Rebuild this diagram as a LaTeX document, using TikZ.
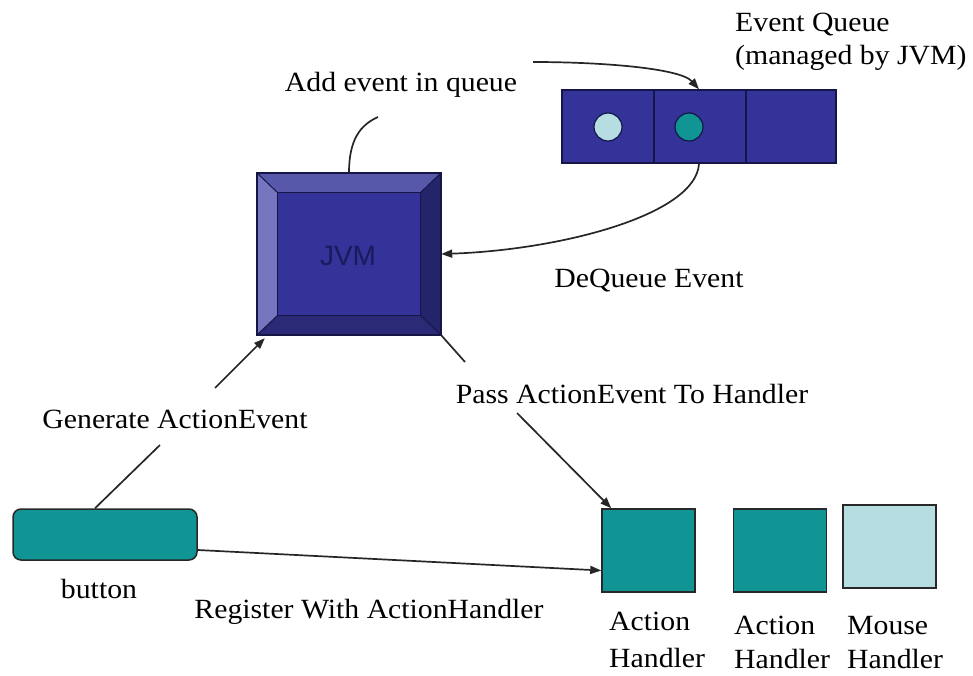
\documentclass[tikz,border=0pt]{standalone}
\usepackage{fontspec}
\setmainfont{Liberation Serif}[FakeStretch=1.07]
\newfontfamily\jvmfont{Liberation Sans}
\usetikzlibrary{arrows.meta,calc}
\definecolor{tealbox}{RGB}{16,148,148}
\definecolor{lightteal}{RGB}{182,222,226}
\definecolor{qfill}{RGB}{51,51,153}
\definecolor{qedge}{RGB}{22,22,70}
\definecolor{jvmface}{RGB}{51,51,153}
\definecolor{jvmtop}{RGB}{88,88,170}
\definecolor{jvmleft}{RGB}{118,118,192}
\definecolor{jvmright}{RGB}{36,36,106}
\definecolor{jvmbottom}{RGB}{42,42,118}
\definecolor{jvmtext}{RGB}{26,26,92}
\definecolor{boxedge}{RGB}{40,40,40}
\begin{document}
\begin{tikzpicture}[x=1pt,y=-1pt,
  lbl/.style={font=\fontsize{27.8}{32}\selectfont, inner sep=0pt},
  conn/.style={line width=1.7pt, draw=black!85},
  arr/.style={conn,-{Triangle[length=11pt,width=8pt]}},
  hbox/.style={draw=boxedge, line width=1.5pt, minimum width=93pt, minimum height=83pt, inner sep=0pt}]
\path[use as bounding box] (0,0) rectangle (973,676);

% JVM box
\node[minimum width=184pt, minimum height=162pt, inner sep=0pt] (jvm) at (349,254) {};
\coordinate (ji1) at ([shift={(21pt,-20pt)}]jvm.north west);
\coordinate (ji2) at ([shift={(-21pt,-20pt)}]jvm.north east);
\coordinate (ji3) at ([shift={(-21pt,20pt)}]jvm.south east);
\coordinate (ji4) at ([shift={(21pt,20pt)}]jvm.south west);
\fill[jvmtop] (jvm.north west) -- (jvm.north east) -- (ji2) -- (ji1) -- cycle;
\fill[jvmleft] (jvm.north west) -- (ji1) -- (ji4) -- (jvm.south west) -- cycle;
\fill[jvmright] (jvm.north east) -- (jvm.south east) -- (ji3) -- (ji2) -- cycle;
\fill[jvmbottom] (jvm.south west) -- (ji4) -- (ji3) -- (jvm.south east) -- cycle;
\draw[qedge, line width=1pt] (jvm.north west) -- (ji1) (jvm.north east) -- (ji2)
  (jvm.south east) -- (ji3) (jvm.south west) -- (ji4);
\draw[qedge, line width=1.2pt, fill=jvmface] (ji1) rectangle (ji3);
\draw[qedge, line width=1.6pt] (jvm.north west) rectangle (jvm.south east);
\node[font=\jvmfont\fontsize{28}{30}\selectfont, text=jvmtext, inner sep=0pt] (jvmlabel) at (348,256) {JVM};

% Event queue
\node[draw=qedge, fill=qfill, line width=1.5pt, minimum width=274pt, minimum height=73pt, inner sep=0pt] (q) at (699,126.5) {};
\draw[qedge, line width=1.2pt] ([xshift=-45pt]q.north) -- ([xshift=-45pt]q.south)
  ([xshift=47pt]q.north) -- ([xshift=47pt]q.south);
\node[circle, draw=qedge, fill=lightteal, line width=1.2pt, minimum size=28pt, inner sep=0pt] (c1) at (608,127) {};
\node[circle, draw=qedge, fill=tealbox, line width=1.2pt, minimum size=28pt, inner sep=0pt] (c2) at (689,127) {};

% Handlers
\node[hbox, fill=tealbox] (h1) at (648.5,550.5) {};
\node[hbox, fill=tealbox] (h2) at (780,550.5) {};
\node[hbox, fill=lightteal] (h3) at (889.5,546.5) {};

% Button
\node[draw=boxedge, fill=tealbox, line width=1.5pt, rounded corners=8pt, minimum width=184pt, minimum height=51pt, inner sep=0pt] (btn) at (105,534.5) {};

% Labels
\node[lbl, anchor=base] (tadd) at (401,92) {Add event in queue};
\node[lbl, anchor=base west] (teq1) at (735,32) {Event Queue};
\node[lbl, anchor=base west] (teq2) at (735,65) {(managed by JVM)};
\node[lbl, anchor=base] (tdq) at (649,287) {DeQueue Event};
\node[lbl, anchor=base] (tgen) at (175,428) {Generate ActionEvent};
\node[lbl, anchor=base] (tpass) at (632,403) {Pass ActionEvent To Handler};
\node[lbl, anchor=base] (tbtn) at (99,598) {button};
\node[lbl, anchor=base] (treg) at (369,618) {Register With ActionHandler};
\node[lbl, anchor=base west] (th1a) at (609,630) {Action};
\node[lbl, anchor=base west] (th1b) at (609,667) {Handler};
\node[lbl, anchor=base west] (th2a) at (734,634) {Action};
\node[lbl, anchor=base west] (th2b) at (734,668) {Handler};
\node[lbl, anchor=base west] (th3a) at (847,634) {Mouse};
\node[lbl, anchor=base west] (th3b) at (847,668) {Handler};

% Connectors
\coordinate (a1) at (378,117);
\coordinate (a2) at (533,62);
\draw[conn] (jvm.north) .. controls (349,140) and (360,125) .. (a1);
\draw[arr] (a2) .. controls (600,62) and (680,68) .. (q.north);

\draw[arr] (q.south) .. controls (696,215) and (560,250) .. (jvm.east);

\coordinate (g1) at (160,445);
\coordinate (g2) at (215,388);
\draw[conn] ([xshift=-10pt]btn.north) -- (g1);
\draw[arr] (g2) -- ([shift={(8pt,-3pt)}]jvm.south west);

\coordinate (p1) at (465,362);
\coordinate (p2) at (517,413);
\draw[conn] (jvm.south east) -- (p1);
\draw[arr] (p2) -- ([xshift=10pt]h1.north west);

\draw[arr] ([yshift=-15.5pt]btn.east) -- ([yshift=-20pt]h1.west);
\end{tikzpicture}
\end{document}
